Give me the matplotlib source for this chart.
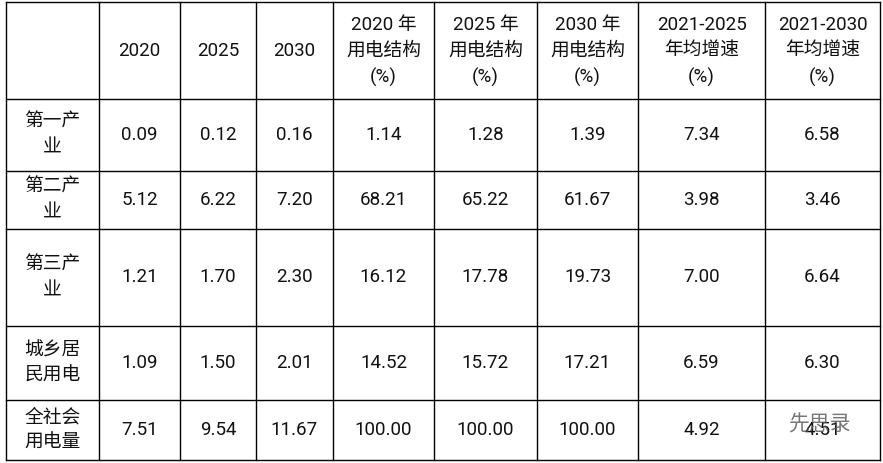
import matplotlib
matplotlib.use("Agg")
import matplotlib.pyplot as plt

headers = ["", "2020", "2025", "2030", "2020 年\n用电结构\n(%)", "2025 年\n用电结构\n(%)",
           "2030 年\n用电结构\n(%)", "2021-2025\n年均增速\n(%)", "2021-2030\n年均增速\n(%)"]
row_labels = ["第一产\n业", "第二产\n业", "第三产\n业", "城乡居\n民用电", "全社会\n用电量"]
values = [
    ["0.09", "0.12", "0.16", "1.14", "1.28", "1.39", "7.34", "6.58"],
    ["5.12", "6.22", "7.20", "68.21", "65.22", "61.67", "3.98", "3.46"],
    ["1.21", "1.70", "2.30", "16.12", "17.78", "19.73", "7.00", "6.64"],
    ["1.09", "1.50", "2.01", "14.52", "15.72", "17.21", "6.59", "6.30"],
    ["7.51", "9.54", "11.67", "100.00", "100.00", "100.00", "4.92", "4.51"],
]

xs = [6, 99, 180, 256, 333, 434, 537, 638, 765, 880]
ys = [2, 99, 171, 229, 326, 400, 460]

fig = plt.figure(figsize=(8.83, 4.63), dpi=100)
ax = fig.add_axes([0, 0, 1, 1])
ax.set_xlim(0, 883)
ax.set_ylim(463, 0)
ax.axis("off")
for x in xs:
    ax.plot([x, x], [ys[0], ys[-1]], color="black", lw=1)
for y in ys:
    ax.plot([xs[0], xs[-1]], [y, y], color="black", lw=1)

font = ["Roboto", "Noto Sans CJK SC"]
def put(text, cx, cy):
    ax.text(cx, cy, text, ha="center", va="center", fontsize=13.5,
            family=font, linespacing=1.55, color="#111111")

for j, h in enumerate(headers):
    put(h, (xs[j] + xs[j+1]) / 2, (ys[0] + ys[1]) / 2 + 1)
for i, lab in enumerate(row_labels):
    cy = (ys[i+1] + ys[i+2]) / 2
    put(lab, (xs[0] + xs[1]) / 2, cy)
    for j, v in enumerate(values[i]):
        put(v, (xs[j+1] + xs[j+2]) / 2, cy)

ax.text(788, 424, "先思录", fontsize=15, family=font, color="#555555", alpha=0.8,
        va="center")
fig.savefig("out.png", dpi=100)
